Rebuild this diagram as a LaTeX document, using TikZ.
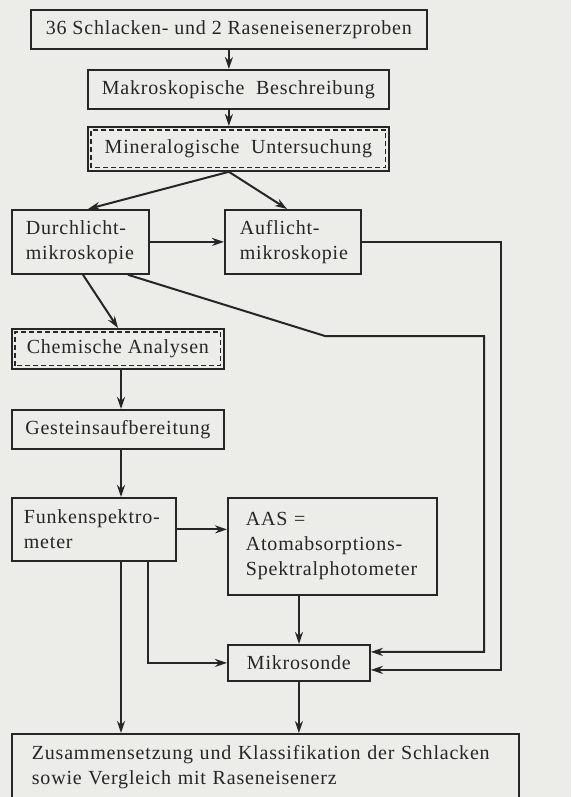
\documentclass[tikz,border=0pt]{standalone}
\usepackage{fontspec}
\setmainfont{Liberation Serif}[LetterSpace=4]
\usetikzlibrary{arrows.meta,positioning,calc}
\definecolor{paper}{RGB}{236,236,233}
\definecolor{ink}{RGB}{38,38,38}
\tikzset{
  box/.style   ={draw=ink,line width=1.8pt,inner sep=0pt,anchor=north west,text=ink,font=\fontsize{20}{25}\selectfont},
  leftbox/.style={box,align=left},
  dashin/.style={draw=ink,line width=1.1pt,dash pattern=on 5pt off 3pt},
  flow/.style  ={draw=ink,line width=2pt,-{Stealth[length=12pt,width=8pt]}},
}
\begin{document}
\begin{tikzpicture}[x=1pt,y=-1pt]
  \fill[paper] (0,0) rectangle (571,797);
  \useasboundingbox (0,0) rectangle (571,797);
  % boxes, placed by their upper left corner
  \node[box,minimum width=396pt,minimum height=39pt] (probe) at (30,9) {36 Schlacken- und 2 Raseneisenerzproben};
  \node[box,minimum width=301pt,minimum height=39pt] (makro) at (87,69) {Makroskopische\ \ Beschreibung};
  \node[box,minimum width=301pt,minimum height=44pt] (miner) at (87,126) {Mineralogische\ \ Untersuchung};
  \node[leftbox,text width=109pt,inner xsep=14pt,minimum height=64pt] (durch) at (11,209) {Durchlicht-\\mikroskopie};
  \node[leftbox,text width=106pt,inner xsep=15pt,minimum height=64pt] (aufl) at (224,209) {Auflicht-\\mikroskopie};
  \node[box,minimum width=212pt,minimum height=40pt] (chem) at (11,328) {Chemische Analysen};
  \node[box,minimum width=212pt,minimum height=39pt] (gest) at (11,409) {Gesteinsaufbereitung};
  \node[leftbox,text width=140pt,inner xsep=12pt,minimum height=63pt] (funk) at (11,497) {Funkenspektro-\\meter};
  \node[leftbox,text width=173pt,inner xsep=18pt,minimum height=97pt] (aas) at (227,497) {AAS =\\Atomabsorptions-\\Spektralphotometer};
  \node[box,minimum width=142pt,minimum height=36pt] (mikro) at (227,644) {Mikrosonde};
  \node[leftbox,text width=467pt,inner xsep=20pt,minimum height=66pt] (final) at (11,733) {Zusammensetzung und Klassifikation der Schlacken\\sowie Vergleich mit Raseneisenerz};
  % dashed inner frames
  \draw[dashin] ([shift={(4pt,4pt)}]miner.south west) rectangle ([shift={(-4pt,-4pt)}]miner.north east);
  \draw[dashin] ([shift={(4pt,4pt)}]chem.south west) rectangle ([shift={(-4pt,-4pt)}]chem.north east);
  % connectors
  \coordinate (split) at (probe.south |- miner.south);
  \coordinate (bend) at (325,336);
  \draw[flow] (probe.south) -- (probe.south |- makro.north);
  \draw[flow] (probe.south |- makro.south) -- (probe.south |- miner.north);
  \draw[flow] (split) -- ([xshift=77pt]durch.north west);
  \draw[flow] (split) -- ([xshift=63pt]aufl.north west);
  \draw[flow] (durch.east) -- (aufl.west);
  \draw[flow] (aufl.east) -- ++(139,0) |- ([yshift=-7pt]mikro.east);
  \draw[flow] ([xshift=117pt]durch.south west) -- (bend) -- (484,336) |- ([yshift=11pt]mikro.east);
  \draw[flow] ([xshift=72pt]durch.south west) -- ([xshift=107pt]chem.north west);
  \draw[flow] ([xshift=110pt]chem.south west) -- ([xshift=110pt]gest.north west);
  \draw[flow] ([xshift=110pt]gest.south west) -- ([xshift=110pt]funk.north west);
  \draw[flow] (funk.east) -- (funk.east -| aas.west);
  \draw[flow] ([xshift=72pt]aas.south west) -- ([xshift=72pt]aas.south west |- mikro.north);
  \draw[flow] ([xshift=137pt]funk.south west) |- (mikro.west);
  \draw[flow] ([xshift=110pt]funk.south west) -- ([xshift=110pt]funk.south west |- final.north);
  \draw[flow] (mikro.south) -- (mikro.south |- final.north);
\end{tikzpicture}
\end{document}
